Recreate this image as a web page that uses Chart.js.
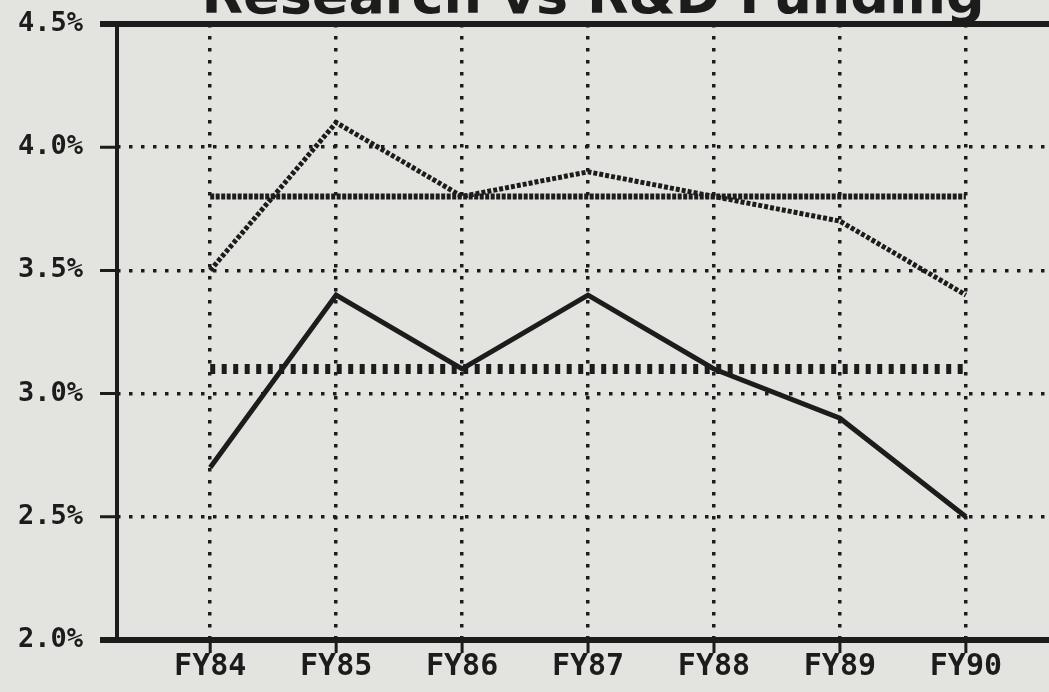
<!DOCTYPE html>
<html>
<head>
<meta charset="utf-8">
<script src="https://cdn.jsdelivr.net/npm/chart.js@4"></script>
<style>
  html, body { margin: 0; padding: 0; background: #e3e4df; }
  #wrap { width: 1049px; height: 692px; position: relative; }
</style>
</head>
<body>
<div id="wrap"><canvas id="chart"></canvas></div>
<script>
const years = ["FY84", "FY85", "FY86", "FY87", "FY88", "FY89", "FY90"];
const rdFunding = [3.5, 4.1, 3.8, 3.9, 3.8, 3.7, 3.4];
const rdAverage = [3.8, 3.8, 3.8, 3.8, 3.8, 3.8, 3.8];
const research = [2.7, 3.4, 3.1, 3.4, 3.1, 2.9, 2.5];
const researchAverage = [3.1, 3.1, 3.1, 3.1, 3.1, 3.1, 3.1];
const yTicks = [2.0, 2.5, 3.0, 3.5, 4.0, 4.5];
const titleText = "Research vs R&D Funding";

const ink = "#1c1c1c";

function points(values) {
  return values.map((v, i) => ({ x: i, y: v }));
}

// big title, mostly cut off at the top edge, plus the heavy frame and tick marks
const decorations = {
  id: "decorations",
  beforeDraw(chart) {
    const ctx = chart.ctx;
    ctx.save();
    ctx.fillStyle = "#e3e4df";
    ctx.fillRect(0, 0, chart.width, chart.height);
    ctx.fillStyle = ink;
    ctx.font = "bold 54px 'DejaVu Sans'";
    ctx.textAlign = "center";
    ctx.textBaseline = "alphabetic";
    ctx.fillText(titleText, 593, 13);
    ctx.restore();
  },
  afterDraw(chart) {
    const ctx = chart.ctx;
    const area = chart.chartArea;
    const x = chart.scales.x, y = chart.scales.y;
    ctx.save();
    ctx.strokeStyle = ink;
    ctx.lineCap = "butt";
    ctx.lineWidth = 6;
    ctx.beginPath();
    ctx.moveTo(100, area.top); ctx.lineTo(chart.width, area.top);
    ctx.moveTo(100, area.bottom); ctx.lineTo(chart.width, area.bottom);
    ctx.stroke();
    ctx.lineWidth = 4;
    ctx.beginPath();
    ctx.moveTo(area.left, area.top); ctx.lineTo(area.left, area.bottom);
    ctx.stroke();
    ctx.lineWidth = 3;
    ctx.beginPath();
    yTicks.forEach(v => {
      const py = y.getPixelForValue(v);
      ctx.moveTo(100, py); ctx.lineTo(area.left, py);
    });
    years.forEach((_, i) => {
      const px = x.getPixelForValue(i);
      ctx.moveTo(px, area.bottom); ctx.lineTo(px, area.bottom + 13);
    });
    ctx.stroke();
    ctx.restore();
  }
};

new Chart(document.getElementById("chart"), {
  type: "line",
  data: {
    datasets: [
      {
        label: "R&D Funding",
        data: points(rdFunding),
        borderColor: ink,
        borderWidth: 5,
        borderDash: [4, 2]
      },
      {
        label: "R&D Average",
        data: points(rdAverage),
        borderColor: ink,
        borderWidth: 6,
        borderDash: [4, 1.5]
      },
      {
        label: "Research",
        data: points(research),
        borderColor: ink,
        borderWidth: 5
      },
      {
        label: "Research Average",
        data: points(researchAverage),
        borderColor: ink,
        borderWidth: 10,
        borderDash: [5, 6.5]
      }
    ]
  },
  options: {
    responsive: true,
    maintainAspectRatio: false,
    animation: false,
    events: [],
    layout: { padding: { top: 24, left: 0, right: 0, bottom: 0 } },
    elements: {
      point: { radius: 0 },
      line: { tension: 0, borderCapStyle: "butt", borderJoinStyle: "miter" }
    },
    plugins: {
      legend: { display: false },
      tooltip: { enabled: false }
    },
    scales: {
      x: {
        type: "linear",
        min: -0.74,
        max: 6.66,
        afterBuildTicks: (scale) => {
          scale.ticks = years.map((_, i) => ({ value: i }));
        },
        afterFit: (scale) => {
          scale.height = 52;
          scale.paddingLeft = 0;
          scale.paddingRight = 0;
        },
        ticks: {
          callback: (v) => years[v],
          color: ink,
          font: { family: "'DejaVu Sans Mono'", size: 30, weight: "bold" },
          padding: 9,
          maxRotation: 0,
          autoSkip: false
        },
        grid: { color: ink, lineWidth: 3.5, drawTicks: false },
        border: { display: false, dash: [3.5, 8.5] }
      },
      y: {
        min: 2.0,
        max: 4.5,
        afterBuildTicks: (scale) => {
          scale.ticks = yTicks.map(v => ({ value: v }));
        },
        afterFit: (scale) => {
          scale.width = 117;
          scale.paddingTop = 0;
          scale.paddingBottom = 0;
        },
        ticks: {
          callback: (v) => v.toFixed(1) + "%",
          color: ink,
          font: { family: "'DejaVu Sans Mono'", size: 27, weight: "bold" },
          padding: 34
        },
        grid: { color: ink, lineWidth: 3.5, drawTicks: false },
        border: { display: false, dash: [3.5, 8.5] }
      }
    }
  },
  plugins: [decorations]
});
</script>
</body>
</html>
